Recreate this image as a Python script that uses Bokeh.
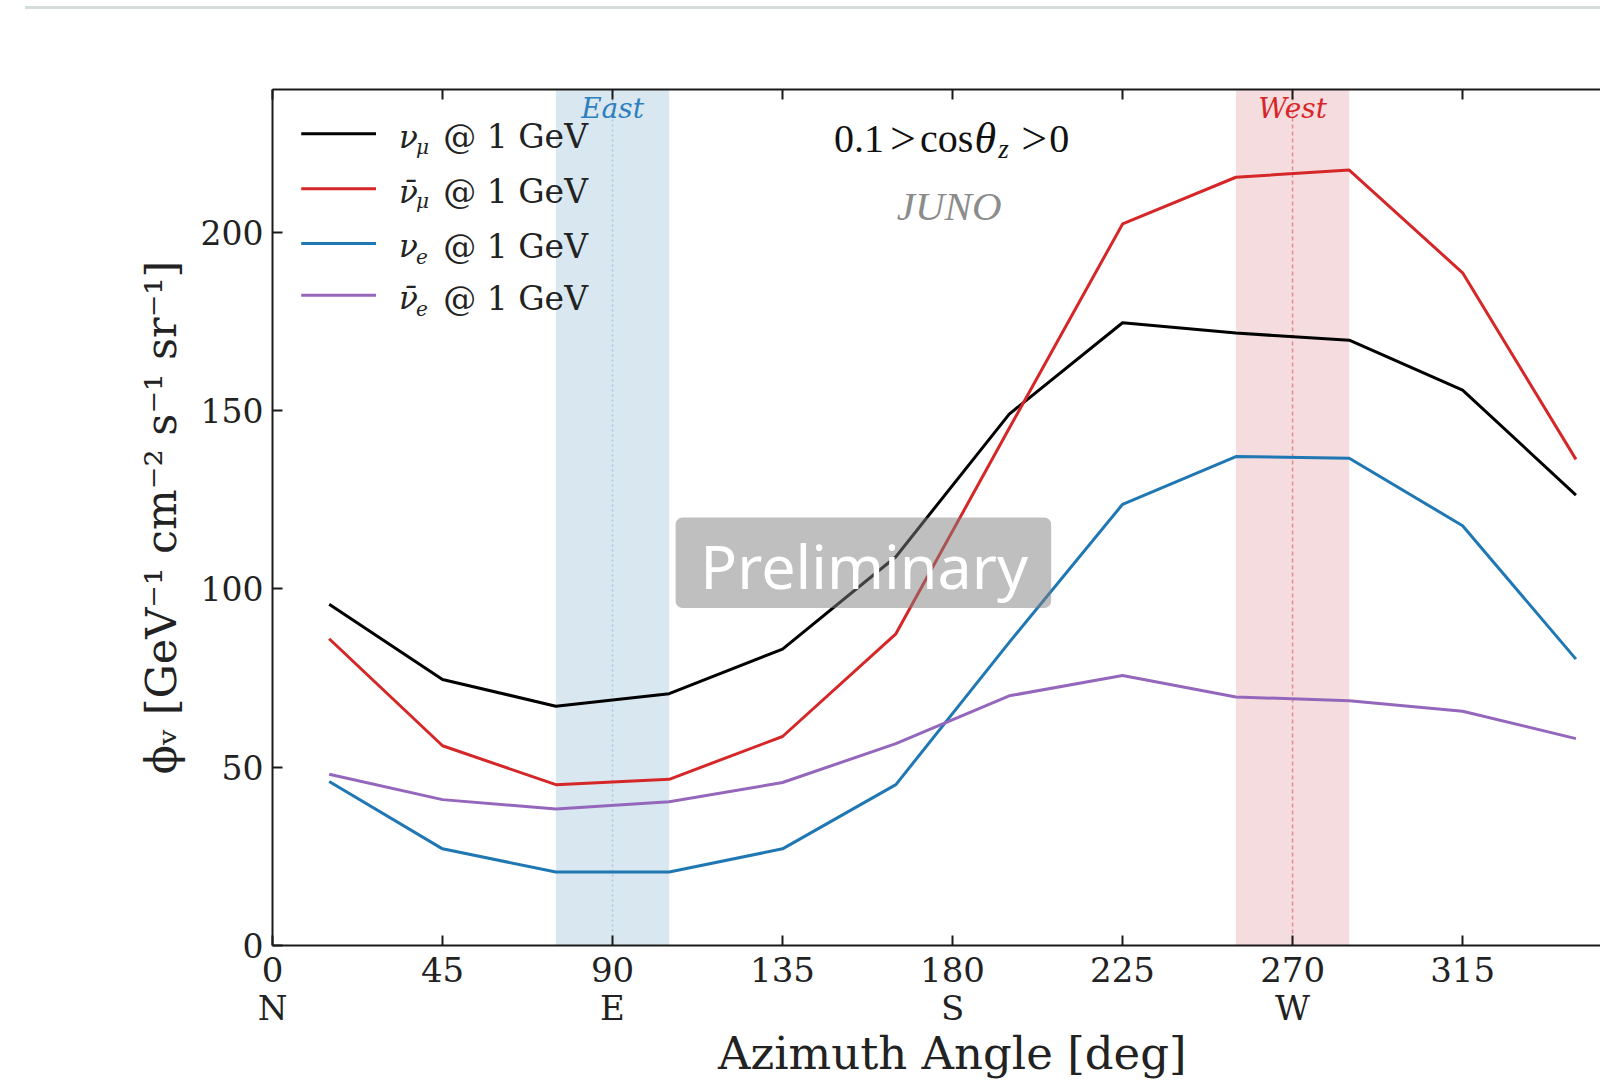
from bokeh.plotting import figure
from bokeh.layouts import column
from bokeh.models import Range1d, LinearAxis, FixedTicker, BoxAnnotation, Span, Label, ColumnDataSource, Div
from bokeh.embed import file_html
from bokeh.resources import INLINE

# ---------------- data ----------------
azimuth = [15, 45, 75, 105, 135, 165, 195, 225, 255, 285, 315, 345]
flux_numu = [95.7, 74.6, 67.1, 70.6, 83.1, 109.0, 149.0, 174.6, 171.7, 169.7, 155.7, 126.3]
flux_numubar = [86.0, 56.0, 45.1, 46.6, 58.6, 87.4, 145.0, 202.3, 215.4, 217.4, 188.6, 136.3]
flux_nue = [46.0, 27.1, 20.6, 20.6, 27.1, 45.1, 85.0, 123.7, 137.1, 136.6, 117.7, 80.3]
flux_nuebar = [48.0, 40.9, 38.3, 40.3, 45.7, 56.6, 70.0, 75.7, 69.7, 68.6, 65.7, 58.0]

x_ticks = [0, 45, 90, 135, 180, 225, 270, 315, 360]
x_tick_labels = ["0\nN", "45", "90\nE", "135", "180\nS", "225", "270\nW", "315", "360\nN"]
y_ticks = [0, 50, 100, 150, 200]

series_values = [flux_numu, flux_numubar, flux_nue, flux_nuebar]
series_symbol = ["\u03bd", "\u03bd\u0304", "\u03bd", "\u03bd\u0304"]
series_sub = ["\u03bc", "\u03bc", "e", "e"]
series_colors = ["#000000", "#d62728", "#1f77b4", "#9467bd"]

east_band = (75, 105)
west_band = (255, 285)
east_dir = 90
west_dir = 270

SERIF = "DejaVu Serif"
TIMES = "Liberation Serif"

# ---------------- figure ----------------
p = figure(width=1600, height=1072,
           x_range=Range1d(0, 351.5), y_range=Range1d(0, 240),
           output_backend="svg", toolbar_location=None,
           min_border_left=272, min_border_right=0,
           min_border_top=79, min_border_bottom=136)
p.outline_line_color = None
p.xgrid.visible = False
p.ygrid.visible = False
p.background_fill_color = "white"
p.border_fill_color = "white"

# bands
p.add_layout(BoxAnnotation(left=east_band[0], right=east_band[1], fill_color="#d9e8f0",
                           fill_alpha=1.0, line_color=None, level="underlay"))
p.add_layout(BoxAnnotation(left=west_band[0], right=west_band[1], fill_color="#f5dcdf",
                           fill_alpha=1.0, line_color=None, level="underlay"))
p.add_layout(Span(location=east_dir, dimension="height", line_color="#a3c8e3",
                  line_dash="2 3", line_width=1.5, level="underlay"))
p.add_layout(Span(location=west_dir, dimension="height", line_color="#e8898f",
                  line_dash="4 3", line_width=1.5, level="underlay"))

# data lines
for vals, col in zip(series_values, series_colors):
    p.line(azimuth, vals, line_color=col, line_width=3)

# axes
xa = p.xaxis[0]
ya = p.yaxis[0]
xa.ticker = FixedTicker(ticks=x_ticks)
xa.major_label_overrides = {t: l for t, l in zip(x_ticks, x_tick_labels)}
ya.ticker = FixedTicker(ticks=y_ticks)
top = LinearAxis(ticker=FixedTicker(ticks=x_ticks))
top.major_label_overrides = {t: "" for t in x_ticks}
p.add_layout(top, "above")

for ax in (xa, ya, top):
    ax.axis_line_width = 2
    ax.axis_line_color = "#1a1a1a"
    ax.major_tick_in = 10
    ax.major_tick_out = 0
    ax.major_tick_line_width = 2
    ax.major_tick_line_color = "#1a1a1a"
    ax.minor_tick_in = 0
    ax.minor_tick_out = 0
    ax.major_label_text_font = SERIF
    ax.major_label_text_color = "#222222"

xa.major_label_text_font_size = "34px"
xa.major_label_text_line_height = 0.95
xa.major_label_standoff = 4
ya.major_label_text_font_size = "33px"
ya.major_label_standoff = 9

# leading spaces centre the title on the full 0-360 span, as in the original
xa.axis_label = "\u2002\u2009Azimuth Angle [deg]"
xa.axis_label_text_font = SERIF
xa.axis_label_text_font_size = "45px"
xa.axis_label_text_font_style = "normal"
xa.axis_label_text_color = "#222222"
xa.axis_label_standoff = -4

ya.axis_label = "\u03d5\u1d65 [GeV\u207b\u00b9 cm\u207b\u00b2 s\u207b\u00b9 sr\u207b\u00b9]"
ya.axis_label_text_font = SERIF
ya.axis_label_text_font_size = "43px"
ya.axis_label_text_font_style = "normal"
ya.axis_label_text_color = "#222222"
ya.axis_label_standoff = 12

# direction labels
p.add_layout(Label(x=east_dir, y=234.6, text="East", text_font=SERIF, text_font_style="italic",
                   text_font_size="28px", text_color="#2f7fbf",
                   text_align="center", text_baseline="middle"))
p.add_layout(Label(x=west_dir, y=234.6, text="West", text_font=SERIF, text_font_style="italic",
                   text_font_size="28px", text_color="#d62728",
                   text_align="center", text_baseline="middle"))

# cos theta annotation, piece by piece
cos_y = 226.2
for xx, txt, style, size, align in [(148.6, "0.1", "normal", "40px", "left"),
                                    (166.9, ">", "normal", "46px", "center"),
                                    (171.4, "cos", "normal", "40px", "left"),
                                    (185.8, "\u03b8", "italic", "44px", "left"),
                                    (201.6, ">", "normal", "46px", "center"),
                                    (210.9, "0", "normal", "40px", "right")]:
    p.add_layout(Label(x=xx, y=cos_y, text=txt, text_font=TIMES, text_font_style=style,
                       text_font_size=size, text_color="#111111",
                       text_align=align, text_baseline="middle"))
p.add_layout(Label(x=192.1, y=cos_y - 2.8, text="z", text_font=TIMES, text_font_style="italic",
                   text_font_size="27px", text_color="#111111",
                   text_align="left", text_baseline="middle"))
p.add_layout(Label(x=179.1, y=207.2, text="JUNO", text_font=TIMES, text_font_style="italic",
                   text_font_size="41px", text_color="#8c8c8c",
                   text_align="center", text_baseline="middle"))

# legend (manual, to allow sub-scripts)
leg_y = [227.6, 212.2, 196.8, 182.3]
leg_src = ColumnDataSource(dict(x0=[7.6] * 4, x1=[27.4] * 4, y=leg_y, c=series_colors))
p.segment(x0="x0", y0="y", x1="x1", y1="y", line_color="c", line_width=3, source=leg_src)
for yy, sym, sub in zip(leg_y, series_symbol, series_sub):
    p.add_layout(Label(x=33.5, y=yy - 0.8, text=sym, text_font=SERIF, text_font_style="italic",
                       text_font_size="31px", text_color="#222222",
                       text_align="left", text_baseline="middle"))
    p.add_layout(Label(x=38.0, y=yy - 3.6, text=sub, text_font=SERIF, text_font_style="italic",
                       text_font_size="20px", text_color="#222222",
                       text_align="left", text_baseline="middle"))
    p.add_layout(Label(x=45.2, y=yy - 0.8, text="@ 1 GeV", text_font=SERIF,
                       text_font_size="33px", text_color="#222222",
                       text_align="left", text_baseline="middle"))

# "Preliminary" watermark
p.add_layout(BoxAnnotation(left=106.7, right=206.1, bottom=94.6, top=120.0,
                           fill_color="#808080", fill_alpha=0.5, line_color=None,
                           border_radius=7))
p.add_layout(Label(x=156.6, y=106.6, text="Preliminary", text_font="Noto Sans",
                   text_font_size="61px", text_color="white",
                   text_align="center", text_baseline="middle"))

# thin grey rule of the slide above the chart
rule = Div(text='<div style="position:absolute;left:25px;top:6px;width:1575px;height:3px;'
                'background:#d5dcdc;"></div>', width=1600, height=10, margin=(0, 0, 0, 0))

layout = column(rule, p, spacing=0)
open("out.html", "w").write(file_html(layout, INLINE))
